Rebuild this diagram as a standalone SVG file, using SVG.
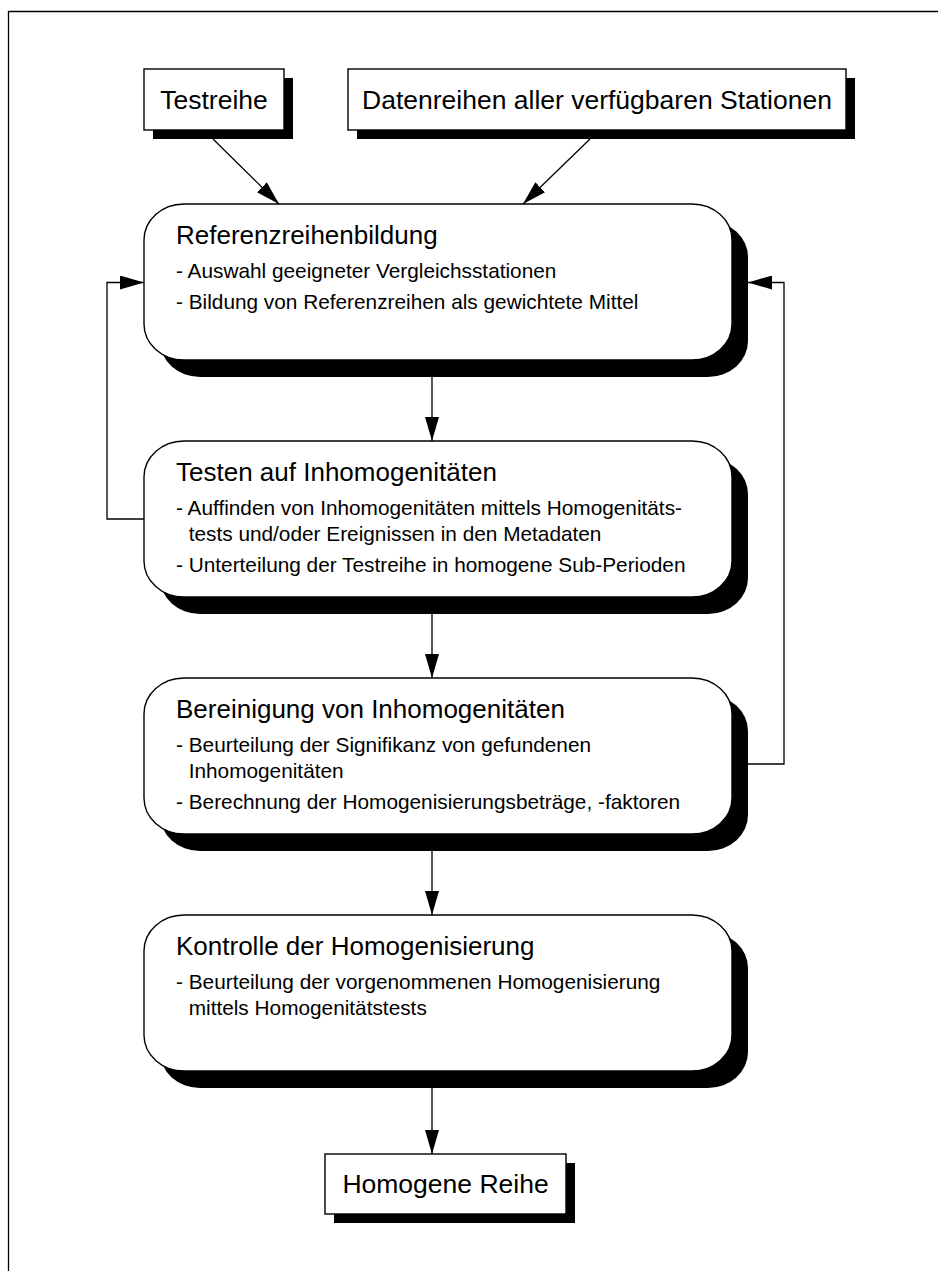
<svg xmlns="http://www.w3.org/2000/svg" width="938" height="1271" viewBox="0 0 938 1271">
<defs>
<style>
.frame{fill:none;stroke:#000;stroke-width:1.3}
.box{fill:#fff;stroke:#000;stroke-width:1.4}
.shadow{fill:#000;stroke:none}
.lbl{font-family:"Liberation Sans",Arial,Helvetica,sans-serif;font-size:26.5px;fill:#000}
.head{font-family:"Liberation Sans",Arial,Helvetica,sans-serif;font-size:26px;fill:#000}
.item{font-family:"Liberation Sans",Arial,Helvetica,sans-serif;font-size:20.8px;fill:#000}
.conn{fill:none;stroke:#000;stroke-width:1.3}
</style>
<marker id="ah" markerUnits="userSpaceOnUse" markerWidth="24" markerHeight="14" refX="24" refY="7" orient="auto">
<path d="M0,0 L24,7 L0,14 z" fill="#000"/>
</marker>
</defs>
<rect width="938" height="1271" fill="#fff"/>
<path class="frame" d="M8.5,1271 V11.5 H938"/>

<g id="testreihe">
<rect class="shadow" x="153" y="78" width="140" height="61"/>
<rect class="box" x="144" y="69" width="140" height="61"/>
<text class="lbl" x="214" y="109" text-anchor="middle">Testreihe</text>
</g>

<g id="datenreihen">
<rect class="shadow" x="357" y="78" width="498" height="61"/>
<rect class="box" x="348" y="69" width="498" height="61"/>
<text class="lbl" x="597" y="109" text-anchor="middle">Datenreihen aller verfügbaren Stationen</text>
</g>

<g id="referenz">
<rect class="shadow" x="160" y="221" width="588" height="156" rx="40" ry="36"/>
<rect class="box" x="144" y="204" width="588" height="156" rx="40" ry="36"/>
<text class="head" x="176" y="244">Referenzreihenbildung</text>
<text class="item" x="176" y="278">- Auswahl geeigneter Vergleichsstationen</text>
<text class="item" x="176" y="309">- Bildung von Referenzreihen als gewichtete Mittel</text>
</g>

<g id="testen">
<rect class="shadow" x="160" y="458" width="588" height="156" rx="40" ry="36"/>
<rect class="box" x="144" y="441" width="588" height="156" rx="40" ry="36"/>
<text class="head" x="176" y="481">Testen auf Inhomogenitäten</text>
<text class="item" x="176" y="515">- Auffinden von Inhomogenitäten mittels Homogenitäts-</text>
<text class="item" x="188.7" y="541">tests und/oder Ereignissen in den Metadaten</text>
<text class="item" x="176" y="572">- Unterteilung der Testreihe in homogene Sub-Perioden</text>
</g>

<g id="bereinigung">
<rect class="shadow" x="160" y="695" width="588" height="156" rx="40" ry="36"/>
<rect class="box" x="144" y="678" width="588" height="156" rx="40" ry="36"/>
<text class="head" x="176" y="718">Bereinigung von Inhomogenitäten</text>
<text class="item" x="176" y="752">- Beurteilung der Signifikanz von gefundenen</text>
<text class="item" x="188.7" y="778">Inhomogenitäten</text>
<text class="item" x="176" y="809">- Berechnung der Homogenisierungsbeträge, -faktoren</text>
</g>

<g id="kontrolle">
<rect class="shadow" x="160" y="932" width="588" height="156" rx="40" ry="36"/>
<rect class="box" x="144" y="915" width="588" height="156" rx="40" ry="36"/>
<text class="head" x="176" y="955">Kontrolle der Homogenisierung</text>
<text class="item" x="176" y="989">- Beurteilung der vorgenommenen Homogenisierung</text>
<text class="item" x="188.7" y="1015">mittels Homogenitätstests</text>
</g>

<g id="homogene">
<rect class="shadow" x="334" y="1163" width="241" height="60"/>
<rect class="box" x="325" y="1154" width="241" height="60"/>
<text class="lbl" x="445.5" y="1193" text-anchor="middle">Homogene Reihe</text>
</g>

<g id="connectors">
<line class="conn" x1="213" y1="139" x2="279" y2="204" marker-end="url(#ah)"/>
<line class="conn" x1="590" y1="139" x2="523" y2="204" marker-end="url(#ah)"/>
<line class="conn" x1="432" y1="377" x2="432" y2="441" marker-end="url(#ah)"/>
<line class="conn" x1="432" y1="614" x2="432" y2="678" marker-end="url(#ah)"/>
<line class="conn" x1="432" y1="851" x2="432" y2="915" marker-end="url(#ah)"/>
<line class="conn" x1="432" y1="1088" x2="432" y2="1154" marker-end="url(#ah)"/>
<path class="conn" d="M144,519 H107 V282.5 H144" marker-end="url(#ah)"/>
<path class="conn" d="M748,764 H784 V282.5 H748" marker-end="url(#ah)"/>
</g>
</svg>
